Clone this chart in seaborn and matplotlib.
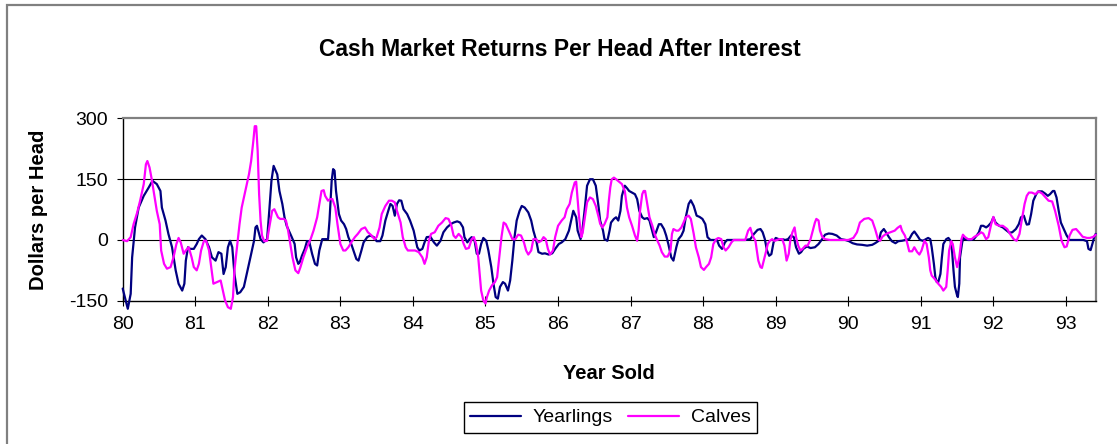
import matplotlib
matplotlib.use("Agg")
import matplotlib.pyplot as plt
from matplotlib.patches import Rectangle
import pandas as pd
import seaborn as sns

# year sold (80 = 1980) and dollars per head
yearling_years = [
    80.00, 80.07, 80.11, 80.13, 80.17, 80.22, 80.29, 80.36, 80.41, 80.47,
    80.52, 80.54, 80.59, 80.63, 80.68, 80.73, 80.77, 80.82, 80.85, 80.87,
    80.90, 80.93, 80.98, 81.02, 81.05, 81.09, 81.14, 81.19, 81.23, 81.28,
    81.32, 81.36, 81.39, 81.42, 81.45, 81.48, 81.51, 81.54, 81.58, 81.62,
    81.67, 81.71, 81.76, 81.81, 81.83, 81.85, 81.90, 81.94, 81.99, 82.02,
    82.05, 82.08, 82.13, 82.16, 82.20, 82.23, 82.26, 82.30, 82.33, 82.37,
    82.39, 82.42, 82.44, 82.47, 82.51, 82.54, 82.57, 82.61, 82.65, 82.68,
    82.71, 82.75, 82.78, 82.83, 82.85, 82.88, 82.90, 82.92, 82.94, 82.98,
    83.01, 83.05, 83.08, 83.11, 83.15, 83.18, 83.22, 83.25, 83.29, 83.32,
    83.37, 83.41, 83.46, 83.50, 83.55, 83.58, 83.62, 83.66, 83.69, 83.72,
    83.75, 83.78, 83.81, 83.84, 83.87, 83.92, 83.96, 84.01, 84.06, 84.09,
    84.13, 84.16, 84.19, 84.24, 84.29, 84.33, 84.38, 84.42, 84.47, 84.52,
    84.56, 84.61, 84.65, 84.69, 84.71, 84.75, 84.78, 84.81, 84.85, 84.88,
    84.91, 84.94, 84.97, 85.01, 85.04, 85.08, 85.11, 85.14, 85.17, 85.20,
    85.24, 85.27, 85.31, 85.34, 85.37, 85.40, 85.43, 85.47, 85.50, 85.54,
    85.59, 85.63, 85.66, 85.70, 85.73, 85.78, 85.82, 85.87, 85.92, 85.96,
    86.01, 86.05, 86.10, 86.15, 86.18, 86.21, 86.25, 86.27, 86.31, 86.33,
    86.37, 86.40, 86.44, 86.48, 86.52, 86.56, 86.58, 86.62, 86.64, 86.68,
    86.71, 86.73, 86.77, 86.80, 86.83, 86.86, 86.88, 86.92, 86.95, 86.98,
    87.02, 87.06, 87.09, 87.12, 87.16, 87.19, 87.23, 87.26, 87.29, 87.32,
    87.35, 87.39, 87.42, 87.46, 87.49, 87.52, 87.56, 87.59, 87.63, 87.66,
    87.70, 87.73, 87.76, 87.80, 87.83, 87.87, 87.91, 87.95, 87.99, 88.03,
    88.06, 88.10, 88.14, 88.19, 88.22, 88.26, 88.30, 88.33, 88.40, 88.49,
    88.58, 88.65, 88.70, 88.75, 88.79, 88.82, 88.85, 88.88, 88.91, 88.94,
    88.97, 89.00, 89.04, 89.09, 89.13, 89.17, 89.21, 89.25, 89.28, 89.32,
    89.35, 89.38, 89.43, 89.48, 89.54, 89.59, 89.64, 89.68, 89.73, 89.78,
    89.84, 89.90, 89.96, 90.01, 90.06, 90.12, 90.19, 90.26, 90.33, 90.37,
    90.42, 90.45, 90.49, 90.52, 90.56, 90.60, 90.65, 90.69, 90.74, 90.79,
    90.84, 90.88, 90.91, 90.95, 90.99, 91.03, 91.10, 91.13, 91.15, 91.18,
    91.20, 91.22, 91.24, 91.27, 91.29, 91.31, 91.35, 91.38, 91.41, 91.43,
    91.45, 91.47, 91.50, 91.51, 91.53, 91.54, 91.57, 91.59, 91.61, 91.65,
    91.68, 91.73, 91.77, 91.80, 91.83, 91.86, 91.90, 91.93, 91.97, 92.00,
    92.03, 92.08, 92.13, 92.17, 92.22, 92.26, 92.31, 92.35, 92.38, 92.42,
    92.44, 92.46, 92.49, 92.52, 92.55, 92.59, 92.62, 92.67, 92.71, 92.75,
    92.78, 92.82, 92.84, 92.87, 92.90, 92.93, 92.98, 93.01, 93.05, 93.10,
    93.17, 93.24, 93.29, 93.31, 93.34, 93.37, 93.39, 93.41,
]
yearling_returns = [
    -120, -170, -133, -43, 31, 80, 109, 130, 146, 138,
    121, 80, 48, 15, -18, -75, -108, -125, -108, -51,
    -18, -22, -22, -10, 2, 11, 2, -18, -43, -51,
    -30, -34, -84, -67, -18, -2, -18, -84, -133, -129,
    -116, -84, -43, -2, 31, 35, 2, -6, 2, 72,
    146, 183, 162, 121, 89, 56, 35, 19, 7, -10,
    -43, -59, -55, -39, -22, -3, -3, -34, -59, -63,
    -26, 2, 2, 2, 48, 146, 175, 171, 121, 64,
    48, 39, 27, 7, -10, -26, -47, -51, -26, -6,
    7, 11, 7, -3, -3, 11, 48, 72, 89, 84,
    60, 89, 98, 97, 76, 64, 48, 23, -18, -26,
    -22, -6, 7, 8, -6, -14, -2, 19, 31, 39,
    43, 46, 43, 31, 7, -6, 2, 7, -2, -34,
    -34, -10, 5, -2, -26, -67, -108, -141, -145, -116,
    -104, -108, -125, -100, -51, 7, 48, 72, 84, 80,
    68, 48, 23, -2, -30, -34, -33, -36, -33, -22,
    -10, -6, 2, 23, 48, 72, 56, 23, 2, 15,
    80, 134, 150, 150, 134, 80, 48, 23, 2, -2,
    23, 43, 52, 56, 48, 72, 109, 134, 128, 121,
    117, 113, 101, 72, 56, 52, 54, 48, 27, 7,
    19, 39, 39, 27, 11, -10, -43, -51, -18, 2,
    11, 23, 56, 89, 98, 84, 60, 57, 52, 39,
    7, 0, 0, 0, -14, -22, -6, 0, 0, 0,
    0, 2, 15, 25, 27, 19, 2, -26, -39, -35,
    -6, 5, 2, 2, 0, 2, 11, 7, -18, -34,
    -30, -22, -16, -20, -18, -10, 2, 13, 16, 15,
    11, 2, 0, -3, -8, -11, -12, -14, -12, -8,
    -2, 19, 27, 19, 7, -3, -8, -3, -2, 0,
    2, 15, 21, 11, 0, -2, 5, 2, -18, -59,
    -92, -104, -104, -84, -43, -10, 2, 5, -2, -26,
    -75, -116, -137, -141, -108, -43, -6, 7, 2, 0,
    0, 2, 11, 19, 35, 35, 31, 35, 43, 56,
    43, 35, 31, 25, 18, 19, 27, 39, 56, 60,
    48, 38, 39, 64, 97, 113, 120, 120, 115, 109,
    113, 121, 121, 105, 72, 43, 23, 11, 0, 0,
    0, 0, -3, -22, -25, -6, 8, 15,
]

calf_years = [
    80.00, 80.06, 80.11, 80.15, 80.20, 80.24, 80.29, 80.32, 80.34, 80.37,
    80.40, 80.44, 80.47, 80.51, 80.53, 80.57, 80.61, 80.66, 80.70, 80.74,
    80.77, 80.80, 80.84, 80.87, 80.91, 80.95, 80.98, 81.02, 81.05, 81.08,
    81.12, 81.15, 81.19, 81.22, 81.25, 81.30, 81.35, 81.38, 81.41, 81.45,
    81.49, 81.52, 81.54, 81.58, 81.61, 81.64, 81.69, 81.74, 81.77, 81.80,
    81.82, 81.84, 81.86, 81.88, 81.90, 81.92, 81.95, 81.99, 82.02, 82.06,
    82.09, 82.14, 82.17, 82.22, 82.25, 82.28, 82.31, 82.34, 82.38, 82.42,
    82.45, 82.49, 82.54, 82.59, 82.63, 82.68, 82.71, 82.74, 82.77, 82.79,
    82.83, 82.86, 82.89, 82.93, 82.96, 83.00, 83.04, 83.07, 83.11, 83.15,
    83.20, 83.24, 83.29, 83.34, 83.38, 83.43, 83.47, 83.50, 83.54, 83.57,
    83.62, 83.67, 83.71, 83.75, 83.78, 83.83, 83.86, 83.90, 83.93, 83.99,
    84.03, 84.08, 84.13, 84.16, 84.19, 84.22, 84.25, 84.30, 84.35, 84.40,
    84.45, 84.49, 84.53, 84.56, 84.59, 84.63, 84.67, 84.70, 84.73, 84.77,
    84.81, 84.84, 84.87, 84.90, 84.92, 84.94, 84.97, 85.00, 85.02, 85.05,
    85.09, 85.13, 85.16, 85.19, 85.22, 85.25, 85.28, 85.31, 85.34, 85.37,
    85.41, 85.45, 85.49, 85.53, 85.56, 85.59, 85.63, 85.66, 85.70, 85.73,
    85.77, 85.80, 85.83, 85.86, 85.89, 85.93, 85.96, 86.00, 86.05, 86.09,
    86.12, 86.16, 86.19, 86.23, 86.25, 86.27, 86.29, 86.32, 86.34, 86.37,
    86.40, 86.44, 86.48, 86.52, 86.56, 86.58, 86.61, 86.64, 86.68, 86.70,
    86.72, 86.74, 86.77, 86.80, 86.84, 86.88, 86.92, 86.95, 86.98, 87.02,
    87.06, 87.09, 87.11, 87.13, 87.16, 87.18, 87.20, 87.23, 87.26, 87.30,
    87.33, 87.36, 87.40, 87.43, 87.47, 87.51, 87.55, 87.57, 87.59, 87.63,
    87.66, 87.70, 87.73, 87.76, 87.80, 87.83, 87.87, 87.90, 87.94, 87.97,
    88.01, 88.04, 88.08, 88.11, 88.14, 88.18, 88.21, 88.25, 88.28, 88.31,
    88.35, 88.39, 88.42, 88.49, 88.58, 88.62, 88.65, 88.68, 88.72, 88.74,
    88.76, 88.79, 88.81, 88.83, 88.87, 88.89, 88.92, 88.95, 88.98, 89.02,
    89.05, 89.09, 89.12, 89.15, 89.18, 89.20, 89.23, 89.26, 89.28, 89.31,
    89.34, 89.37, 89.41, 89.44, 89.48, 89.51, 89.54, 89.56, 89.59, 89.61,
    89.64, 89.68, 89.75, 89.82, 89.91, 90.00, 90.07, 90.12, 90.16, 90.22,
    90.28, 90.33, 90.37, 90.41, 90.44, 90.47, 90.52, 90.58, 90.64, 90.68,
    90.72, 90.74, 90.78, 90.81, 90.84, 90.88, 90.91, 90.95, 90.98, 91.01,
    91.05, 91.08, 91.11, 91.13, 91.15, 91.19, 91.24, 91.28, 91.31, 91.35,
    91.37, 91.39, 91.42, 91.44, 91.47, 91.50, 91.53, 91.56, 91.58, 91.61,
    91.65, 91.70, 91.74, 91.79, 91.83, 91.86, 91.90, 91.93, 91.97, 92.00,
    92.03, 92.08, 92.13, 92.19, 92.23, 92.28, 92.32, 92.36, 92.39, 92.43,
    92.46, 92.49, 92.53, 92.58, 92.62, 92.67, 92.71, 92.76, 92.81, 92.85,
    92.90, 92.94, 92.98, 93.01, 93.05, 93.09, 93.14, 93.18, 93.23, 93.29,
    93.33, 93.38, 93.41,
]
calf_returns = [
    0, -3, 7, 39, 68, 97, 138, 187, 195, 179,
    150, 105, 72, 39, -26, -59, -71, -67, -43, -10,
    5, -6, -34, -26, -18, -43, -67, -75, -59, -26,
    -2, -2, -26, -67, -108, -104, -100, -125, -149, -166,
    -170, -141, -75, -10, 39, 80, 121, 162, 195, 244,
    281, 281, 220, 113, 48, 11, -3, -2, 31, 72,
    76, 56, 52, 52, 48, 23, -10, -43, -75, -82,
    -67, -43, -18, 2, 23, 56, 89, 121, 123, 109,
    97, 101, 101, 80, 39, -10, -26, -26, -18, -6,
    7, 15, 27, 31, 19, 11, 2, 7, 31, 64,
    84, 97, 97, 93, 72, 43, 7, -18, -26, -26,
    -26, -30, -43, -59, -43, -2, 15, 19, 35, 43,
    54, 52, 35, 11, 5, 15, 7, -10, -22, -20,
    2, 7, -10, -43, -84, -125, -149, -157, -141, -125,
    -112, -104, -92, -43, 7, 43, 39, 27, 15, 2,
    2, 13, 11, -6, -26, -36, -26, 2, 2, -6,
    -2, 7, 2, -22, -36, -26, 7, 35, 48, 56,
    76, 89, 117, 142, 144, 101, 56, 7, 19, 56,
    93, 105, 101, 84, 56, 40, 31, 39, 56, 97,
    130, 150, 154, 150, 144, 138, 121, 80, 56, 35,
    11, -2, 23, 72, 113, 121, 121, 89, 56, 35,
    15, 2, -14, -30, -41, -41, -26, 15, 27, 23,
    23, 31, 43, 56, 60, 52, 15, -18, -43, -67,
    -74, -67, -59, -43, -10, 2, 5, 2, -18, -26,
    -18, -6, 0, 0, 0, 23, 30, 11, -2, -26,
    -51, -67, -69, -55, -26, -10, -2, 2, -2, 0,
    2, 2, -14, -51, -34, -2, 19, 31, 7, -14,
    -26, -22, -14, -14, 2, 23, 43, 52, 48, 23,
    8, 2, 0, 0, 0, 0, 5, 19, 43, 52,
    54, 48, 27, 2, -2, 8, 15, 19, 23, 30,
    35, 23, 11, -6, -28, -28, -18, -30, -36, -26,
    -2, -10, -43, -75, -88, -96, -108, -116, -125, -116,
    -75, -26, -3, -10, -43, -67, -43, 2, 13, 7,
    2, 2, 8, 13, 19, 16, 2, 7, 39, 57,
    39, 35, 35, 27, 15, 2, -2, 15, 48, 89,
    109, 117, 117, 113, 120, 115, 107, 97, 95, 72,
    35, -2, -18, -16, 11, 25, 27, 19, 8, 5,
    5, 8, 13,
]

series_names = ["Yearlings", "Calves"]
series_colors = ["#000080", "#FF00FF"]
year_ticks = list(range(80, 94))
year_labels = [str(y) for y in year_ticks]
dollar_ticks = [-150, 0, 150, 300]

df = pd.concat([
    pd.DataFrame({"Year": yearling_years, "Return": yearling_returns, "Series": series_names[0]}),
    pd.DataFrame({"Year": calf_years, "Return": calf_returns, "Series": series_names[1]}),
], ignore_index=True)

sns.set_theme(style="white")
plt.rcParams["font.family"] = ["Liberation Sans", "DejaVu Sans"]
plt.rcParams["axes.unicode_minus"] = False
for key in ["text.color", "axes.labelcolor", "xtick.color", "ytick.color"]:
    plt.rcParams[key] = "black"

W, H = 1117, 444
fig = plt.figure(figsize=(W / 100, H / 100), dpi=100)
fig.patch.set_facecolor("white")

# plot area in pixels: left 122.7, right 1095.7, top 118.5, bottom 300.7
ax = fig.add_axes([122.7 / W, 1 - 300.7 / H, (1095.7 - 122.7) / W, (300.7 - 118.5) / H])

for y in [0, 150]:
    ax.axhline(y, color="black", lw=0.8, zorder=1)

sns.lineplot(
    data=df, x="Year", y="Return", hue="Series",
    hue_order=series_names, palette=dict(zip(series_names, series_colors)),
    estimator=None, sort=False, linewidth=1.6, ax=ax, zorder=3,
)
# the original lets the dips run a little past the -150 axis
for line in ax.lines[2:]:
    line.set_clip_on(False)

ax.set_xlim(80, 93.41)
ax.set_ylim(-150, 300)
ax.set_xticks(year_ticks)
ax.set_xticklabels(year_labels)
ax.set_yticks(dollar_ticks)
ax.set_xlabel("")
ax.set_ylabel("")

for side in ["top", "right"]:
    ax.spines[side].set_color("#808080")
    ax.spines[side].set_linewidth(1.6)
for side in ["left", "bottom"]:
    ax.spines[side].set_color("black")
    ax.spines[side].set_linewidth(1.0)

ax.tick_params(axis="x", direction="inout", length=7.5, width=0.8, color="black",
               labelcolor="black", labelsize=14, pad=7, bottom=True)
ax.tick_params(axis="y", direction="out", length=4.5, width=0.8, color="black",
               labelcolor="black", labelsize=14, pad=6, left=True)

handles, labels = ax.get_legend_handles_labels()
ax.get_legend().remove()
leg = fig.legend(
    handles, labels, loc="center", ncol=2,
    bbox_to_anchor=(610.5 / W, 1 - 417.5 / H), bbox_transform=fig.transFigure,
    fontsize=14, frameon=True, fancybox=False, shadow=False, framealpha=1,
    handlelength=2.6, handletextpad=0.6, columnspacing=0.8, borderpad=0.35,
)
leg.get_frame().set_edgecolor("black")
leg.get_frame().set_linewidth(1.0)

fig.text(560 / W, 1 - 49 / H, "Cash Market Returns Per Head After Interest",
         ha="center", va="center", fontsize=16.5, fontweight="bold")
fig.text(608.7 / W, 1 - 373.5 / H, "Year Sold",
         ha="center", va="center", fontsize=14.5, fontweight="bold")
fig.text(38.7 / W, 1 - 209.6 / H, "Dollars per Head", rotation=90,
         ha="center", va="center", fontsize=14.5, fontweight="bold")

# chart area border (cut off at the right and bottom in the original)
fig.patches.append(Rectangle((7.3 / W, -0.05), 1.1, 1 - 5.3 / H + 0.05,
                             transform=fig.transFigure, fill=False,
                             edgecolor="#808080", linewidth=1.6))

fig.savefig("out.png", dpi=100)
